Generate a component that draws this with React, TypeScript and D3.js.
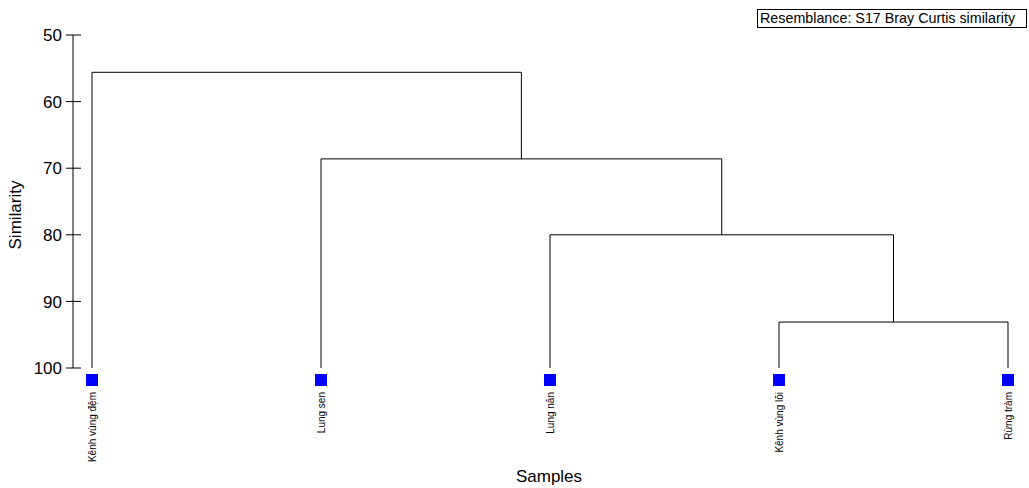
import React, { useRef, useEffect } from 'react';
import * as d3 from 'd3';

const leaves = ['Kênh vùng đệm', 'Lung sen', 'Lung năn', 'Kênh vùng lõi', 'Rừng tràm'];
// merges: [left node, right node, similarity]; nodes are leaf names or merge ids "m0".."m3"
const mergeLeft = ['Kênh vùng lõi', 'Lung năn', 'Lung sen', 'Kênh vùng đệm'];
const mergeRight = ['Rừng tràm', 'm0', 'm1', 'm2'];
const mergeSim = [93.1, 80.0, 68.6, 55.6];
const yTicks = [50, 60, 70, 80, 90, 100];

const W = 1029;
const H = 488;

const App = () => {
  const svgRef = useRef<SVGSVGElement>(null);

  useEffect(() => {
    const svg = d3.select(svgRef.current);
    svg.selectAll('*').remove();
    const font = 'Arial, "Liberation Sans", sans-serif';

    const y = d3.scaleLinear().domain([50, 100]).range([35, 368]);
    const x = d3.scalePoint().domain(leaves).range([92, 1008]);

    // y axis
    const axisX = 73;
    svg.append('line')
      .attr('x1', axisX).attr('x2', axisX)
      .attr('y1', y(50)).attr('y2', y(100))
      .attr('stroke', '#000');
    yTicks.forEach(t => {
      svg.append('line')
        .attr('x1', axisX - 7).attr('x2', axisX + 8)
        .attr('y1', y(t)).attr('y2', y(t))
        .attr('stroke', '#000');
      svg.append('text')
        .attr('x', axisX - 11).attr('y', y(t))
        .attr('dy', '0.36em')
        .attr('text-anchor', 'end')
        .attr('font-family', font).attr('font-size', 17)
        .text(t);
    });

    svg.append('text')
      .attr('transform', `translate(21,215) rotate(-90)`)
      .attr('text-anchor', 'middle')
      .attr('font-family', font).attr('font-size', 17)
      .text('Similarity');

    svg.append('text')
      .attr('x', 549).attr('y', 482)
      .attr('text-anchor', 'middle')
      .attr('font-family', font).attr('font-size', 17)
      .text('Samples');

    // node positions
    const pos: Record<string, { x: number; s: number }> = {};
    leaves.forEach(l => { pos[l] = { x: x(l) as number, s: 100 }; });
    mergeSim.forEach((s, i) => {
      const a = pos[mergeLeft[i]];
      const b = pos[mergeRight[i]];
      svg.append('path')
        .attr('d', `M${a.x},${y(a.s)}V${y(s)}H${b.x}V${y(b.s)}`)
        .attr('fill', 'none')
        .attr('stroke', '#000')
        .attr('stroke-width', 1);
      pos['m' + i] = { x: (a.x + b.x) / 2, s };
    });

    // leaf markers and labels
    leaves.forEach(l => {
      const lx = x(l) as number;
      svg.append('rect')
        .attr('x', lx - 6).attr('y', 374)
        .attr('width', 12).attr('height', 12)
        .attr('fill', '#0000ff');
      svg.append('text')
        .attr('transform', `translate(${lx + 3.5},392) rotate(-90)`)
        .attr('text-anchor', 'end')
        .attr('font-family', font).attr('font-size', 10)
        .text(l);
    });

    // legend box
    svg.append('rect')
      .attr('x', 757.5).attr('y', 9.5)
      .attr('width', 269).attr('height', 18)
      .attr('fill', '#fff').attr('stroke', '#000');
    svg.append('text')
      .attr('x', 760).attr('y', 23)
      .attr('font-family', font).attr('font-size', 14.3)
      .text('Resemblance: S17 Bray Curtis similarity');
  }, []);

  return (
    <svg ref={svgRef} width={W} height={H}
      style={{ position: 'absolute', left: 0, top: 0, background: '#fff' }} />
  );
};

export default App;
